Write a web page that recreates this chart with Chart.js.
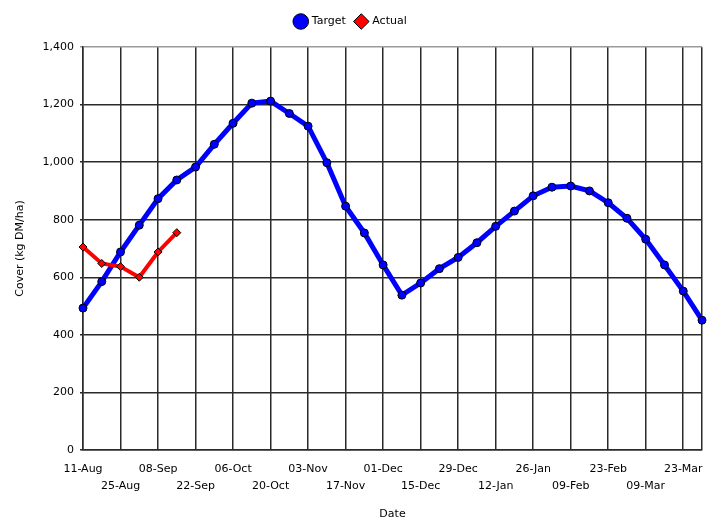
<!DOCTYPE html>
<html>
<head>
<meta charset="utf-8">
<script src="https://cdn.jsdelivr.net/npm/chart.js@4"></script>
<style>
    html, body { margin: 0; padding: 0; background: #fff; }
</style>
</head>
<body>
<canvas id="chart" width="719" height="519"></canvas>
<script>
(function () {
    "use strict";

    const weeks = ["11-Aug", "18-Aug", "25-Aug", "01-Sep", "08-Sep", "15-Sep", "22-Sep", "29-Sep", "06-Oct", "13-Oct",
        "20-Oct", "27-Oct", "03-Nov", "10-Nov", "17-Nov", "24-Nov", "01-Dec", "08-Dec", "15-Dec", "22-Dec",
        "29-Dec", "05-Jan", "12-Jan", "19-Jan", "26-Jan", "02-Feb", "09-Feb", "16-Feb", "23-Feb", "02-Mar",
        "09-Mar", "16-Mar", "23-Mar", "30-Mar"];
    const target = [493, 585, 688, 781, 873, 938, 983, 1062, 1135, 1205, 1212, 1169, 1125, 998, 847, 754, 643, 538,
        580, 630, 669, 720, 777, 830, 883, 913, 917, 900, 859, 805, 732, 643, 552, 451];
    const actual = [705, 648, 637, 600, 688, 755];

    const font = { family: "'DejaVu Sans', sans-serif", size: 11 };
    const gridColor = "#2a2a2a";
    const last = weeks.length - 1;

    // extra room under the legend so the plot starts lower
    const legendGap = {
        id: "legendGap",
        afterInit(chart) {
            const fit = chart.legend.fit;
            chart.legend.fit = function () { fit.call(this); this.height += 10; };
        },
    };

    new Chart(document.getElementById("chart"), {
        type: "line",
        data: {
            labels: weeks,
            datasets: [
                {
                    label: "Target", data: target, order: 1,
                    borderColor: "#0000ff", backgroundColor: "#0000ff", borderWidth: 5,
                    pointStyle: "circle", pointRadius: 4, pointBorderColor: "#000", pointBorderWidth: 1,
                    pointBackgroundColor: "#0000ff", tension: 0,
                },
                {
                    label: "Actual", data: actual, order: 0,
                    borderColor: "#ff0000", backgroundColor: "#ff0000", borderWidth: 4,
                    pointStyle: "rectRot", pointRadius: 4, pointBorderColor: "#000", pointBorderWidth: 1,
                    pointBackgroundColor: "#ff0000", tension: 0,
                },
            ],
        },
        plugins: [legendGap],
        options: {
            responsive: false,
            animation: false,
            layout: { padding: { top: 6, right: 17, bottom: 0, left: 0 } },
            plugins: {
                tooltip: { enabled: false },
                legend: {
                    position: "top",
                    labels: {
                        color: "#000", font, usePointStyle: true, boxWidth: 13, boxHeight: 13, padding: 10,
                        sort: (a, b) => a.datasetIndex - b.datasetIndex,
                        generateLabels: (chart) => Chart.defaults.plugins.legend.labels.generateLabels(chart)
                            .map((l) => Object.assign(l, { lineWidth: 1, strokeStyle: "#000" })),
                    },
                },
            },
            scales: {
                x: {
                    type: "category",
                    grid: { color: gridColor, lineWidth: 1.5, drawTicks: false },
                    border: { color: gridColor, width: 1.5 },
                    ticks: {
                        color: "#000", font: { ...font, lineHeight: 1.6 }, autoSkip: false, maxRotation: 0, padding: 10,
                        callback: (v, i) => {
                            if (i === last) return "";
                            if (i % 2) return null;
                            return i % 4 === 0 ? weeks[i] : ["", weeks[i]];
                        },
                    },
                    title: { display: true, text: "Date", color: "#000", font, padding: { top: 0, bottom: -2 } },
                    afterFit: (s) => { s.height = 69; },
                },
                y: {
                    min: 0, max: 1400,
                    grid: {
                        color: (ctx) => (ctx.tick && ctx.tick.value === 1400 ? "#9a9a9a" : gridColor),
                        lineWidth: 1.5, tickLength: 3,
                    },
                    border: { color: gridColor, width: 1.5 },
                    ticks: { color: "#000", font, stepSize: 200, padding: 6 },
                    title: { display: true, text: "Cover (kg DM/ha)", color: "#000", font, padding: { top: 14, bottom: 0 } },
                    afterFit: (s) => { s.width = 83; },
                },
            },
        },
    });
})();
</script>
</body>
</html>
